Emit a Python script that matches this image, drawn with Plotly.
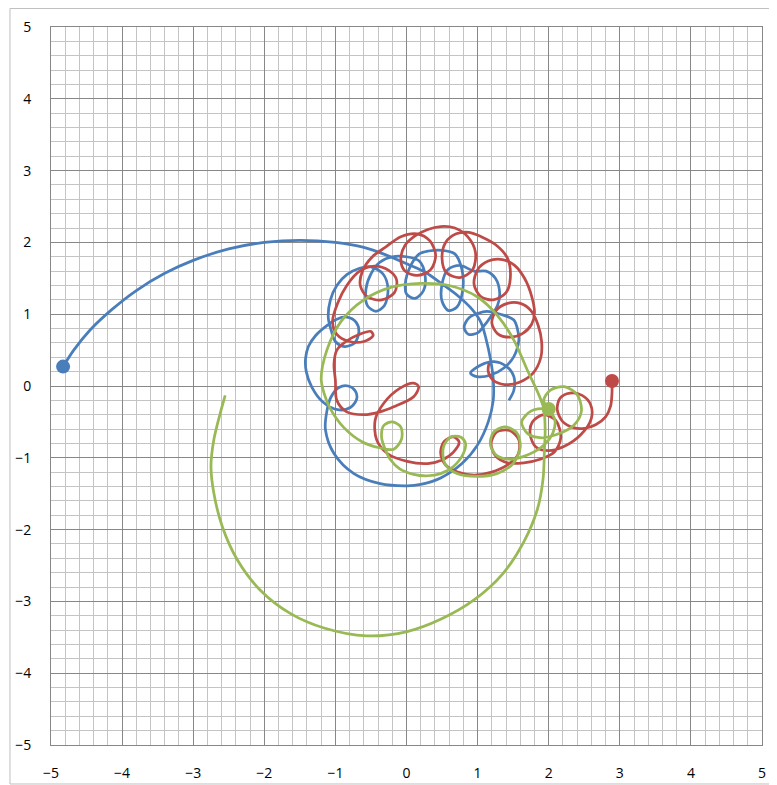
import plotly.graph_objects as go

# ---- Blue series (start marker at outer end) ----
blue_x = [-4.83, -4.68, -4.45, -4.15, -3.8, -3.4, -3.0, -2.5, -2.0, -1.5, -1.0, -0.6, -0.3, 0.03, 0.27, 0.5, 0.73, 0.92, 1.05, 1.12, 1.18, 1.22, 1.22, 1.15, 1.0, 0.78, 0.48, 0.2, 0.01, -0.37, -0.74, -1.02, -1.14, -1.12,
          -1.06, -0.95, -0.82, -0.72, -0.7, -0.79, -0.97,
          -1.18, -1.33, -1.41, -1.42, -1.38, -1.28, -1.12,
          -0.98, -0.84, -0.71, -0.67, -0.73, -0.87, -1.0, -1.06, -1.1,
          -1.07, -0.98, -0.84, -0.66,
          -0.5, -0.33, -0.26, -0.31, -0.43, -0.55, -0.57, -0.5, -0.38, -0.2,
          0.0, 0.18, 0.26, 0.24, 0.12, 0.0, -0.01, 0.06, 0.18, 0.31,
          0.5, 0.68, 0.78, 0.79, 0.71, 0.59, 0.5, 0.5, 0.58, 0.75,
          0.95, 1.12, 1.25, 1.31, 1.28, 1.2, 1.1, 1.0, 0.87, 0.81, 0.88, 1.0, 1.13, 1.32, 1.51, 1.57, 1.58,
          1.51, 1.37, 1.18, 0.99, 0.9, 1.04, 1.23, 1.41, 1.51, 1.51, 1.44]
blue_y = [0.27, 0.5, 0.78, 1.06, 1.33, 1.57, 1.75, 1.91, 2.0, 2.03, 2.0, 1.93, 1.83, 1.69, 1.58, 1.42, 1.25, 1.07, 0.88, 0.65, 0.38, 0.1, -0.2, -0.5, -0.82, -1.08, -1.28, -1.37, -1.39, -1.36, -1.22, -0.94, -0.61, -0.35,
          -0.15, -0.02, 0.0, -0.07, -0.18, -0.3, -0.33,
          -0.22, -0.02, 0.2, 0.38, 0.55, 0.7, 0.84,
          0.93, 0.96, 0.89, 0.75, 0.6, 0.55, 0.62, 0.78, 0.95,
          1.2, 1.4, 1.55, 1.64,
          1.66, 1.56, 1.35, 1.12, 1.04, 1.12, 1.35, 1.56, 1.72, 1.8,
          1.8, 1.74, 1.55, 1.33, 1.22, 1.28, 1.48, 1.68, 1.84, 1.88,
          1.89, 1.84, 1.62, 1.33, 1.1, 1.05, 1.18, 1.42, 1.62, 1.68,
          1.6, 1.6, 1.5, 1.3, 1.12, 0.99, 0.85, 0.74, 0.72, 0.82, 0.95, 1.01, 1.04, 1.0, 0.92, 0.75, 0.64,
          0.41, 0.25, 0.15, 0.13, 0.18, 0.29, 0.34, 0.27, 0.13, -0.06, -0.2]

# ---- Red series (free end near (1.16, 0.32), marker at the right end) ----
red_x = [1.16, 1.15, 1.22, 1.38, 1.58, 1.78, 1.89, 1.9, 1.85, 1.75, 1.6, 1.42, 1.26, 1.2, 1.28, 1.45, 1.63, 1.76, 1.8, 1.76,
         1.66, 1.52, 1.35, 1.15, 1.0, 0.95, 1.04, 1.22, 1.4, 1.46, 1.42, 1.25,
         1.05, 0.88, 0.7, 0.55, 0.5, 0.56, 0.75, 0.93, 0.97, 0.86, 0.68, 0.48,
         0.3, 0.12, -0.02, -0.08, -0.02, 0.15, 0.34, 0.41, 0.33, 0.15, -0.08,
         -0.3, -0.48, -0.62, -0.65, -0.55, -0.35, -0.17, -0.14, -0.25, -0.45, -0.66,
         -0.84, -0.97, -1.04, -0.98, -0.8, -0.6, -0.47, -0.5, -0.66, -0.85, -0.98, -1.02,
         -1.0, -0.98, -0.84, -0.6, -0.37, -0.18, 0.1, 0.17, 0.1, -0.09, -0.32, -0.44,
         -0.42, -0.27, 0.01, 0.3, 0.5, 0.66, 0.74, 0.66, 0.53, 0.48, 0.55, 0.72,
         0.95, 1.2, 1.42, 1.57, 1.58, 1.45, 1.27, 1.19, 1.25, 1.42, 1.65,
         1.88, 2.08, 2.17, 2.1, 1.93, 1.77, 1.74, 1.82, 2.0, 2.22,
         2.45, 2.6, 2.59, 2.47, 2.3, 2.16, 2.12, 2.2, 2.35, 2.5, 2.66, 2.8, 2.87, 2.89, 2.89]
red_y = [0.32, 0.2, 0.08, 0.02, 0.05, 0.18, 0.4, 0.62, 0.85, 1.05, 1.15, 1.15, 1.05, 0.88, 0.73, 0.68, 0.73, 0.86, 1.02, 1.25,
         1.5, 1.68, 1.76, 1.74, 1.62, 1.42, 1.25, 1.2, 1.3, 1.5, 1.78, 1.97,
         2.08, 2.14, 2.12, 2.0, 1.78, 1.58, 1.51, 1.62, 1.86, 2.08, 2.2, 2.22,
         2.18, 2.09, 1.96, 1.76, 1.6, 1.54, 1.62, 1.82, 2.02, 2.12, 2.08,
         1.93, 1.8, 1.6, 1.4, 1.24, 1.2, 1.3, 1.48, 1.61, 1.67, 1.6,
         1.4, 1.15, 0.9, 0.72, 0.62, 0.62, 0.7, 0.76, 0.72, 0.62, 0.5, 0.3,
         0.08, -0.2, -0.36, -0.4, -0.36, -0.29, -0.15, -0.01, 0.04, -0.03, -0.24, -0.47,
         -0.75, -0.94, -1.05, -1.08, -1.03, -0.92, -0.78, -0.71, -0.77, -0.93, -1.1, -1.2,
         -1.24, -1.2, -1.1, -0.95, -0.75, -0.62, -0.64, -0.8, -0.97, -1.07, -1.07,
         -1.02, -0.92, -0.72, -0.48, -0.4, -0.5, -0.68, -0.85, -0.9, -0.84,
         -0.68, -0.45, -0.26, -0.13, -0.1, -0.17, -0.33, -0.5, -0.58, -0.59, -0.54, -0.43, -0.28, -0.1, 0.07]

# ---- Green series (free end near (-2.55, -0.13), marker at the end near x=2) ----
green_x = [-2.55, -2.62, -2.71, -2.75, -2.71, -2.59, -2.38, -2.06, -1.63, -1.16, -0.56, 0.01, 0.48, 0.95, 1.35, 1.65, 1.84, 1.92, 1.94, 1.95, 1.93, 1.86, 1.7, 1.51, 1.28, 1.0, 0.6, 0.2, -0.2, -0.6, -0.92, -1.12, -1.2, -1.16, -1.08, -0.88, -0.62,
           -0.38, -0.18, -0.07, -0.08, -0.2, -0.32, -0.35, -0.3, -0.23, -0.1, 0.1, 0.3,
           0.48, 0.66, 0.8, 0.83, 0.76, 0.62, 0.52, 0.54, 0.71, 0.99, 1.27,
           1.5, 1.6, 1.55, 1.38, 1.22, 1.18, 1.27, 1.45, 1.65,
           1.9, 2.06, 2.08, 1.95, 1.75, 1.62, 1.7, 1.88, 2.1,
           2.35, 2.46, 2.4, 2.22, 2.02, 1.93, 2.0]
green_y = [-0.13, -0.38, -0.75, -1.12, -1.49, -1.96, -2.42, -2.84, -3.17, -3.37, -3.48, -3.42, -3.25, -2.98, -2.62, -2.17, -1.72, -1.3, -0.89, -0.61, -0.31, -0.12, 0.22, 0.64, 0.98, 1.24, 1.4, 1.43, 1.38, 1.2, 0.9, 0.5, 0.1, -0.1, -0.3, -0.58, -0.78,
           -0.86, -0.88, -0.74, -0.57, -0.5, -0.55, -0.72, -0.88, -1.02, -1.15, -1.23, -1.25,
           -1.22, -1.12, -0.94, -0.8, -0.71, -0.71, -0.85, -1.08, -1.22, -1.26, -1.22,
           -1.08, -0.85, -0.65, -0.57, -0.65, -0.82, -0.97, -1.02, -0.98,
           -0.85, -0.65, -0.45, -0.32, -0.35, -0.5, -0.66, -0.72, -0.68,
           -0.55, -0.35, -0.12, -0.01, -0.06, -0.2, -0.32]

BLUE = "#4A7EBB"
RED = "#BE4B48"
GREEN = "#98B954"

fig = go.Figure()
for xs, ys, col in [(blue_x, blue_y, BLUE), (red_x, red_y, RED), (green_x, green_y, GREEN)]:
    fig.add_trace(go.Scatter(x=xs, y=ys, mode="lines",
                             line=dict(color=col, width=2.75, shape="spline", smoothing=0.9),
                             hoverinfo="skip", showlegend=False))

# markers at the series ends
fig.add_trace(go.Scatter(x=[blue_x[0]], y=[blue_y[0]], mode="markers",
                         marker=dict(color=BLUE, size=14), showlegend=False))
fig.add_trace(go.Scatter(x=[red_x[-1]], y=[red_y[-1]], mode="markers",
                         marker=dict(color=RED, size=14), showlegend=False))
fig.add_trace(go.Scatter(x=[green_x[-1]], y=[green_y[-1]], mode="markers",
                         marker=dict(color=GREEN, size=14), showlegend=False))

axis_common = dict(range=[-5, 5], dtick=1, tick0=-5, showgrid=True, gridcolor="#878787", gridwidth=1,
                   zeroline=False, showline=True, linecolor="#878787", linewidth=1, mirror=True,
                   ticks="", automargin=False,
                   tickfont=dict(family="Open Sans, Liberation Sans, sans-serif", size=14, color="#000000"),
                   minor=dict(dtick=0.2, showgrid=True, gridcolor="#C4C4C4", gridwidth=1),
                   fixedrange=True)

# the page body adds an 8px offset, so the figure is sized to fit the 777x785 window
fig.update_layout(
    width=769, height=777,
    margin=dict(l=43, r=15, t=19, b=40, autoexpand=False),
    paper_bgcolor="white", plot_bgcolor="white",
    xaxis=dict(**axis_common, ticklabelstandoff=15),
    yaxis=dict(**axis_common, ticklabelstandoff=16),
    shapes=[dict(type="rect", xref="paper", yref="paper", x0=-0.0577, x1=1.0113, y0=-0.0543, y1=1.0258,
                 line=dict(color="#BFBFBF", width=1), fillcolor="rgba(0,0,0,0)", layer="below")],
)

fig.write_html("out.html")
